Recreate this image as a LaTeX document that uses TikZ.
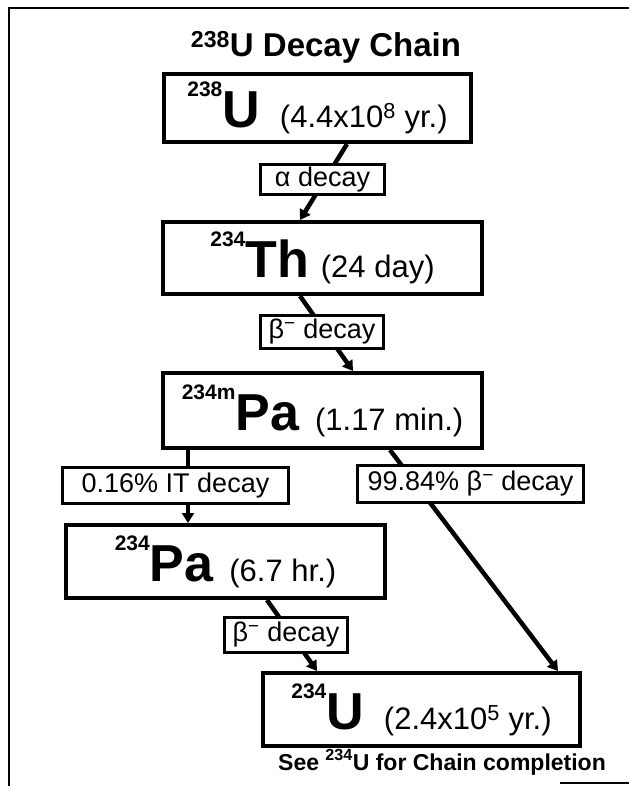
\documentclass[tikz,border=0pt]{standalone}
\usepackage{fontspec}
\setmainfont{Liberation Sans}
\usetikzlibrary{arrows.meta,backgrounds}
\definecolor{DInk}{HTML}{000000}

% mass number, symbol, half-life
\newcommand{\isotope}[4][12pt]{%
  \raisebox{31pt}{\fontsize{21}{21}\selectfont\bfseries #2}%
  {\fontsize{52}{52}\selectfont\bfseries #3}\hspace{#1}%
  {\fontsize{31}{31}\selectfont #4}}

\begin{document}
\begin{tikzpicture}[x=1pt,y=-1pt,
    nucbox/.style={draw=DInk,line width=4pt,fill=white,inner sep=0pt},
    decaybox/.style={draw=DInk,line width=3pt,fill=white,inner sep=0pt,
      font=\fontsize{27}{27}\selectfont},
    decayline/.style={draw=DInk,line width=4.5pt,-{Triangle[length=10pt,width=12pt]}}]
  \useasboundingbox (0,0) rectangle (629,786);
  % frame
  \draw[DInk,line width=2pt] (629,8) -- (9,8) -- (9,786);
  \draw[DInk,line width=1.5pt] (560,783) -- (629,783);
  % title
  \node[anchor=base,font=\fontsize{33}{33}\selectfont\bfseries] (title) at (326,57)
    {\textsuperscript{238}U Decay Chain};
  % nuclides
  \node[nucbox,minimum width=307pt,minimum height=68pt] (u238) at (317.5,108)
    {\isotope[20pt]{238}{U}{(4.4x10\textsuperscript{8} yr.)}};
  \node[nucbox,minimum width=319pt,minimum height=72pt] (th234) at (322.5,258)
    {\isotope{234}{Th}{(24 day)}};
  \node[nucbox,minimum width=319pt,minimum height=75pt] (pa234m) at (322.5,410.5)
    {\isotope[16pt]{234m}{Pa}{(1.17 min.)}};
  \node[nucbox,minimum width=319pt,minimum height=73pt] (pa234) at (225.5,561.5)
    {\isotope[16pt]{234}{Pa}{(6.7 hr.)}};
  \node[nucbox,minimum width=317pt,minimum height=73pt] (u234) at (421.5,709.5)
    {\isotope[20pt]{234}{U}{(2.4x10\textsuperscript{5} yr.)}};
  % decay modes
  \node[decaybox,minimum width=124pt,minimum height=30pt] (alpha) at (322.5,180) {α decay};
  \node[decaybox,minimum width=123pt,minimum height=33pt] (beta1) at (322,332) {β\textsuperscript{−} decay};
  \node[decaybox,minimum width=226pt,minimum height=36pt] (it) at (175.5,485.5) {0.16\% IT decay};
  \node[decaybox,minimum width=226pt,minimum height=37pt] (beta2) at (470.5,484) {99.84\% β\textsuperscript{−} decay};
  \node[decaybox,minimum width=123pt,minimum height=35pt] (beta3) at (286,635) {β\textsuperscript{−} decay};
  \node[anchor=base,font=\fontsize{23}{23}\selectfont\bfseries] (note) at (442,770)
    {See \textsuperscript{234}U for Chain completion};
  % connectors
  \begin{scope}[on background layer]
    \draw[decayline] ([xshift=29.5pt]u238.south) -- ([xshift=-22.5pt]th234.north);
    \draw[decayline] ([xshift=-22.5pt]th234.south) -- ([xshift=30.5pt]pa234m.north);
    \draw[decayline] ([xshift=-134.5pt]pa234m.south) -- ([xshift=-37.5pt]pa234.north);
    \draw[decayline] ([xshift=67.5pt]pa234m.south) -- ([xshift=136.5pt]u234.north);
    \draw[decayline] ([xshift=41.5pt]pa234.south) -- ([xshift=-104.5pt]u234.north);
  \end{scope}
\end{tikzpicture}
\end{document}
